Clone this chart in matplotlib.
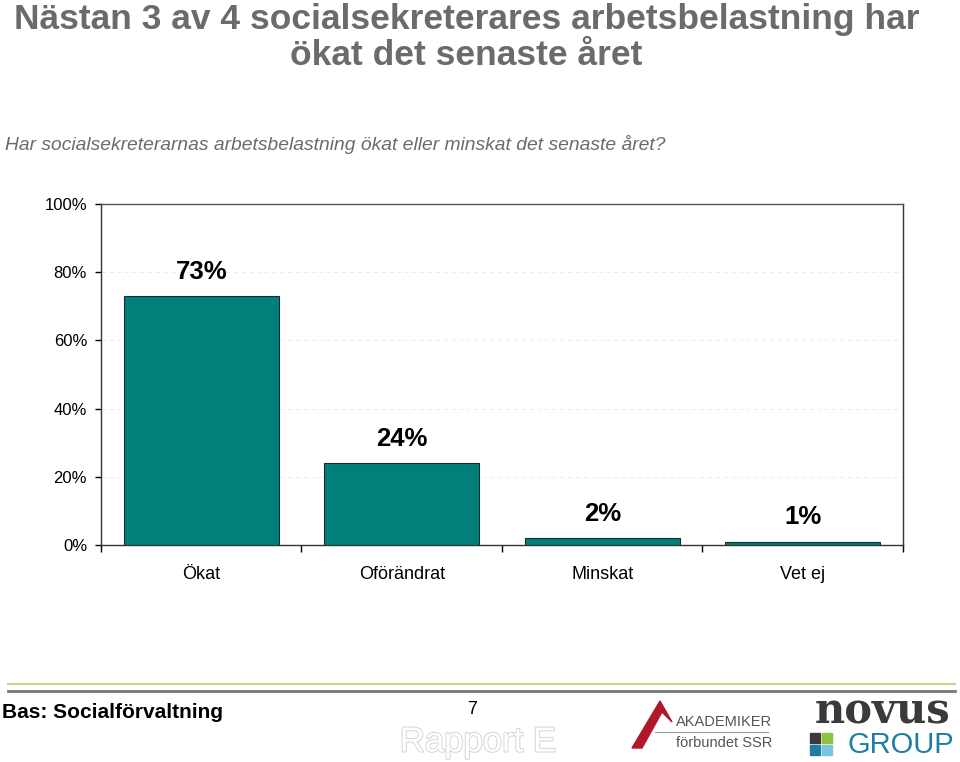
import matplotlib.pyplot as plt
import matplotlib.patheffects as pe
from matplotlib.patches import Polygon, Rectangle
from matplotlib.lines import Line2D
from matplotlib.ticker import FuncFormatter

plt.rcParams['font.family'] = ['Liberation Sans', 'DejaVu Sans']

# === Data ===
kategorier = ["Ökat", "Oförändrat", "Minskat", "Vet ej"]
andelar = [73, 24, 2, 1]
yticks = [0, 20, 40, 60, 80, 100]

titel = "Nästan 3 av 4 socialsekreterares arbetsbelastning har\nökat det senaste året"
fraga = "Har socialsekreterarnas arbetsbelastning ökat eller minskat det senaste året?"

TEAL = "#007f7b"
GRAY = "#6b6b6b"

fig = plt.figure(figsize=(9.6, 7.62), dpi=100)

# === Rubriker ===
fig.text(0.486, 0.996, titel, ha='center', va='top', fontsize=25.5, fontweight='bold',
         color=GRAY, linespacing=1.1)
fig.text(0.005, 1 - 145 / 762, fraga, ha='left', va='center', fontsize=13.9, style='italic', color=GRAY)

# === Diagram ===
ax = fig.add_axes([0.1052, 0.2848, 0.8354, 0.4475])
x = range(len(kategorier))
ax.bar(x, andelar, width=0.775, color=TEAL, edgecolor='#1a2a2a', linewidth=0.8, zorder=3)
for xi, v in zip(x, andelar):
    ax.annotate(f"{v}%", (xi, v), xytext=(0, 9), textcoords='offset points',
                ha='center', va='bottom', fontsize=18.5, fontweight='bold', color='black')

ax.set_xlim(-0.5, len(kategorier) - 0.5)
ax.set_ylim(0, 100)
ax.set_yticks(yticks)
ax.yaxis.set_major_formatter(FuncFormatter(lambda v, p: f"{v:.0f}%"))
ax.set_xticks(list(x))
ax.set_xticklabels(kategorier, fontsize=13)
ax.set_xticks([i + 0.5 for i in range(-1, len(kategorier))], minor=True)
ax.tick_params(axis='x', which='major', length=0, pad=15)
ax.tick_params(axis='x', which='minor', length=5, width=1, direction='out')
ax.tick_params(axis='y', length=4, width=1, labelsize=12, pad=6)
for y in yticks[1:-1]:
    ax.axhline(y, color='#ececec', linewidth=0.7, linestyle=(0, (4, 4)), zorder=1)
for s in ax.spines.values():
    s.set_color('#333333')
    s.set_linewidth(1)
ax.spines['top'].set_color('#555555')

# === Sidfot ===
fig.add_artist(Line2D([0.008, 0.995], [1 - 684 / 762] * 2, color='#c5d88a', linewidth=1.5))
fig.add_artist(Line2D([0.008, 0.995], [1 - 691 / 762] * 2, color='#777777', linewidth=2))
fig.text(0.002, 1 - 713 / 762, "Bas: Socialförvaltning", ha='left', va='center',
         fontsize=15, fontweight='bold', color='black')
fig.text(0.492, 1 - 709 / 762, "7", ha='center', va='center', fontsize=13, color='black')
fig.text(0.498, 1 - 742 / 762, "Rapport E", ha='center', va='center', fontsize=25, color='white',
         path_effects=[pe.withStroke(linewidth=1.5, foreground='#d8d8d8')])

# Akademikerförbundet SSR
fig.add_artist(Polygon([[632 / 960, 1 - 748 / 762], [660 / 960, 1 - 701 / 762],
                        [672 / 960, 1 - 722 / 762], [662 / 960, 1 - 712 / 762],
                        [642 / 960, 1 - 748 / 762]], closed=True, color='#b0182a'))
fig.text(676 / 960, 1 - 722 / 762, "AKADEMIKER", ha='left', va='center', fontsize=10.5, color='#555555')
fig.add_artist(Line2D([655 / 960, 768 / 960], [1 - 732 / 762] * 2, color='#999999', linewidth=0.8))
fig.text(676 / 960, 1 - 743 / 762, "förbundet SSR", ha='left', va='center', fontsize=10.5, color='#555555')

# Novus Group
fig.text(882 / 960, 1 - 712 / 762, "novus", ha='center', va='center', fontsize=30,
         family=['DejaVu Serif'], fontweight='bold', color='#3a3a3a')
fig.text(901 / 960, 1 - 745 / 762, "GROUP", ha='center', va='center', fontsize=21,
         color='#1f7fa0')
for (cx, cy, c) in [(810, 733, '#3a3a3a'), (822, 733, '#8fc23f'),
                    (810, 745, '#1f7fa0'), (822, 745, '#7cc3dd')]:
    fig.add_artist(Rectangle((cx / 960, 1 - (cy + 10) / 762), 10 / 960, 10 / 762, color=c))

fig.savefig("out.png", dpi=100)
